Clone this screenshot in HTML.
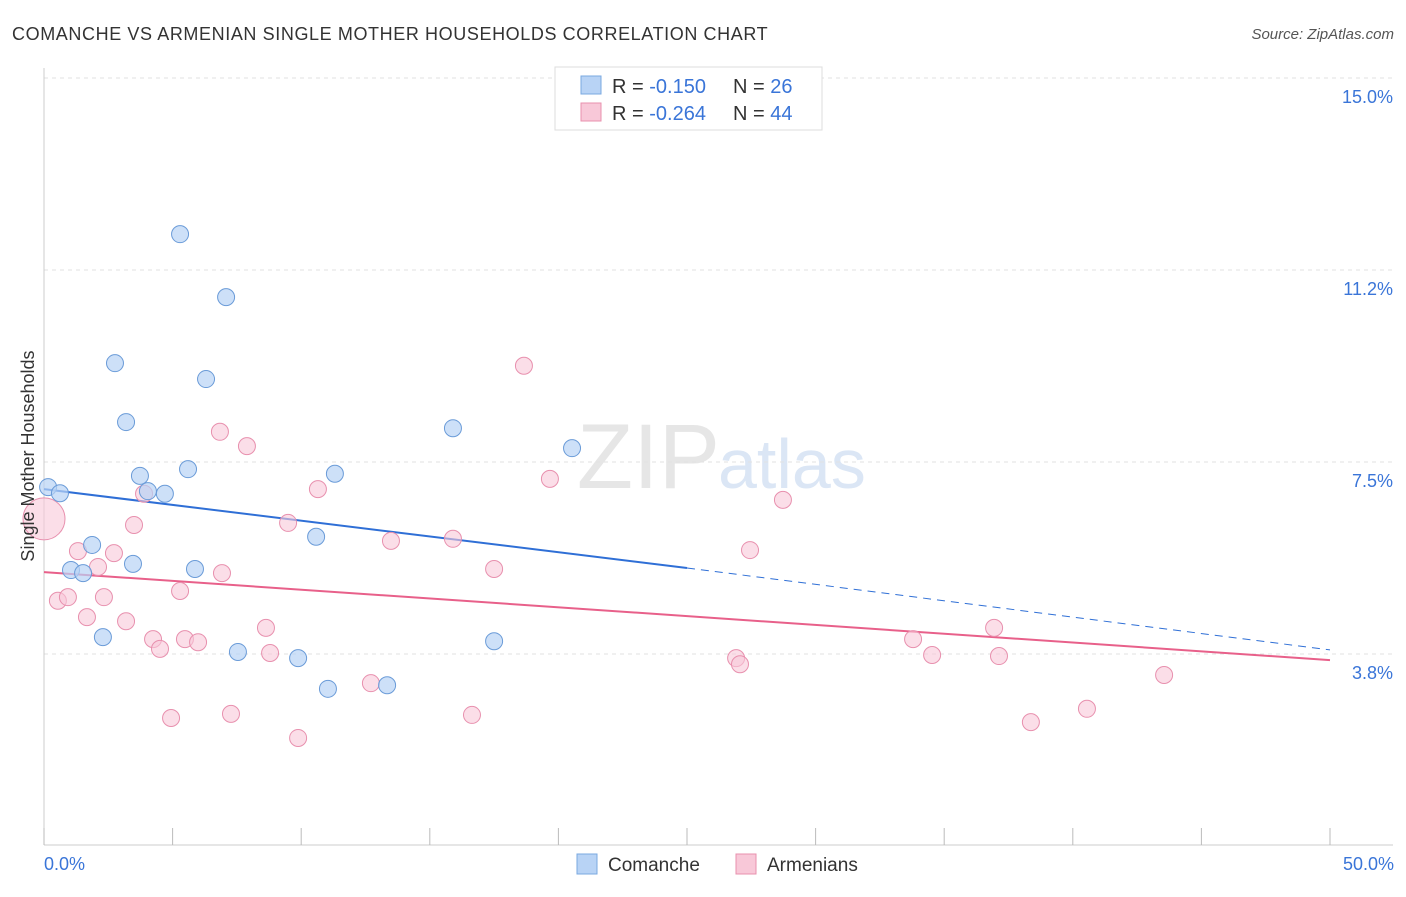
<!DOCTYPE html>
<html><head><meta charset="utf-8"><style>
body{margin:0;background:#fff;font-family:"Liberation Sans",sans-serif;}
svg text{font-family:"Liberation Sans",sans-serif;}
</style></head><body>
<svg width="1406" height="892" xmlns="http://www.w3.org/2000/svg" id="chart">
<text x="12" y="40" font-size="18" fill="#333" letter-spacing="0.6">COMANCHE VS ARMENIAN SINGLE MOTHER HOUSEHOLDS CORRELATION CHART</text>
<text x="1394" y="39" font-size="15" fill="#555" font-style="italic" text-anchor="end">Source: ZipAtlas.com</text>
<text x="720" y="488" font-size="92" fill="#e6e6e6" text-anchor="end" font-family="Liberation Serif">ZIP</text>
<text x="718" y="488" font-size="70" fill="#dbe6f5">atlas</text>
<g id="grid"></g><g id="axes"></g><g id="lines"></g><g id="points"></g>
<text transform="translate(34,456) rotate(-90)" font-size="18" fill="#333" text-anchor="middle">Single Mother Households</text>
<text x="44" y="870" font-size="18" fill="#3a75d8">0.0%</text>
<text x="1394" y="870" font-size="18" fill="#3a75d8" text-anchor="end">50.0%</text>
<g>
<rect x="555" y="67" width="267" height="63" fill="#fff" stroke="#ddd"/>
<rect x="581" y="76" width="20" height="18" fill="#b8d3f5" stroke="#7aa8e0"/>
<rect x="581" y="103" width="20" height="18" fill="#f8c8d8" stroke="#e890ae"/>
<text x="612" y="93" font-size="20" fill="#333">R = <tspan fill="#3a75d8">-0.150</tspan><tspan x="733">N = </tspan><tspan fill="#3a75d8">26</tspan></text>
<text x="612" y="120" font-size="20" fill="#333">R = <tspan fill="#3a75d8">-0.264</tspan><tspan x="733">N = </tspan><tspan fill="#3a75d8">44</tspan></text>
</g>
<g>
<rect x="577" y="854" width="20" height="20" fill="#b8d3f5" stroke="#7aa8e0"/>
<text x="608" y="871" font-size="19" fill="#333">Comanche</text>
<rect x="736" y="854" width="20" height="20" fill="#f8c8d8" stroke="#e890ae"/>
<text x="767" y="871" font-size="19" fill="#333">Armenians</text>
</g>
</svg>
<script>
const yTicks=[3.75,7.5,11.25,15];
const yTickLabels=["3.8%","7.5%","11.2%","15.0%"];
const xTicks=[0,5,10,15,20,25,30,35,40,45,50];
const comancheX=[0.16,0.62,1.05,1.52,1.87,2.29,2.76,3.19,3.46,3.73,4.04,4.70,5.29,5.60,5.87,6.30,7.08,7.54,9.88,10.58,11.04,11.31,13.34,15.90,17.50,20.53];
const comancheY=[7.01,6.89,5.39,5.33,5.88,4.08,9.43,8.28,5.51,7.23,6.93,6.88,11.95,7.36,5.41,9.12,10.72,3.79,3.67,6.04,3.07,7.27,3.14,8.16,4.00,7.77];
const armenX=[0.0,0.54,0.93,1.32,1.67,2.10,2.33,2.72,3.19,3.50,3.89,4.24,4.51,4.94,5.29,5.48,5.99,6.84,6.92,7.27,7.89,8.63,8.79,9.49,9.88,10.65,12.71,13.49,15.90,16.64,17.50,18.66,19.67,26.91,27.06,27.45,28.73,33.79,34.53,36.94,37.13,38.37,40.55,43.55];
const armenY=[6.39,4.79,4.86,5.76,4.47,5.45,4.86,5.72,4.39,6.27,6.88,4.04,3.85,2.50,4.98,4.04,3.98,8.09,5.33,2.58,7.81,4.26,3.77,6.31,2.11,6.97,3.18,5.96,6.00,2.56,5.41,9.38,7.17,3.67,3.55,5.78,6.76,4.04,3.73,4.26,3.71,2.42,2.68,3.34];
const comancheTrend=[6.97,5.43,3.83];
const armenTrend=[5.35,3.63];
const sx=v=>44+v*1286/50;
const sy=v=>654-(v-3.75)*51.2;
const NS="http://www.w3.org/2000/svg";
function mk(tag,attrs,parent){const e=document.createElementNS(NS,tag);for(const k in attrs)e.setAttribute(k,attrs[k]);document.getElementById(parent).appendChild(e);return e;}
yTicks.forEach((t,i)=>{
 const g=mk('line',{x1:44,x2:1393,y1:sy(t),y2:sy(t),stroke:'#e2e2e2','stroke-dasharray':'4,4'},'grid');
 
 
 const tx=mk('text',{x:1393,y:sy(t)+25,'font-size':18,fill:'#3a75d8','text-anchor':'end'},'grid');
 tx.textContent=yTickLabels[i];
 
 
});
const ya=mk('line',{x1:44,x2:44,y1:68,y2:845,stroke:'#ccc'},'axes');


const xa=mk('line',{x1:44,x2:1393,y1:845,y2:845,stroke:'#ccc'},'axes');


xTicks.forEach(t=>{
 const l=mk('line',{x1:sx(t),x2:sx(t),y1:828,y2:845,stroke:'#bbb'},'axes');
 
 
});
const b1=mk('line',{x1:sx(0),y1:sy(comancheTrend[0]),x2:sx(25),y2:sy(comancheTrend[1]),stroke:'#2f6fd6','stroke-width':2},'lines');


const b2=mk('line',{x1:sx(25),y1:sy(comancheTrend[1]),x2:sx(50),y2:sy(comancheTrend[2]),stroke:'#2f6fd6','stroke-width':1,'stroke-dasharray':'8,6'},'lines');


const p1=mk('line',{x1:sx(0),y1:sy(armenTrend[0]),x2:sx(50),y2:sy(armenTrend[1]),stroke:'#e8608a','stroke-width':2},'lines');


armenX.forEach((x,i)=>{
 const c=mk('circle',{cx:sx(x),cy:sy(armenY[i]),r:i===0?21:8.5,fill:'#f8c8d8','fill-opacity':0.6,stroke:'#e890ae','stroke-width':1},'points');
 
 
});
comancheX.forEach((x,i)=>{
 const c=mk('circle',{cx:sx(x),cy:sy(comancheY[i]),r:8.5,fill:'#b8d3f5','fill-opacity':0.7,stroke:'#6a9bd8','stroke-width':1},'points');
 
 
});
</script>
</body></html>
